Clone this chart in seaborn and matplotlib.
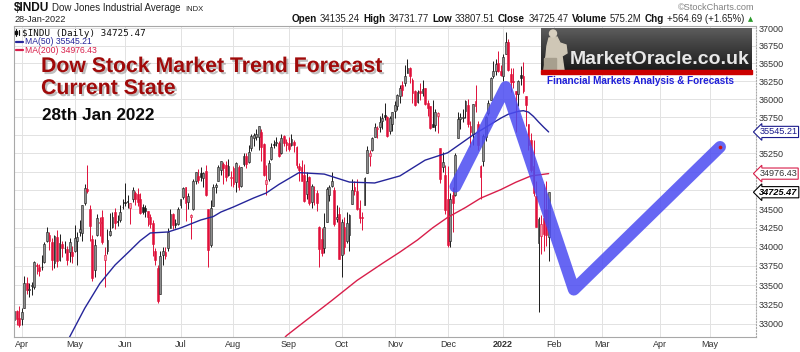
import numpy as np
import pandas as pd
import matplotlib
matplotlib.use("Agg")
import matplotlib.pyplot as plt
import matplotlib.patheffects as pe
from matplotlib.transforms import blended_transform_factory
from matplotlib.patches import Rectangle, Ellipse, Polygon
from matplotlib.lines import Line2D
from matplotlib.ticker import FixedLocator, NullLocator, NullFormatter
import seaborn as sns

# ---------------- data (Dow Jones Industrial Average, daily) ----------------
FIRST_DAY = "2021-03-29"
PREV_CLOSE = 33072.88
OPEN = [
    33050, 33170, 33080,
    33060, 33210, 33520, 33440, 33490, 33480, 33760, 33740, 33730, 33800, 34080, 34150, 34060, 33790, 34130, 33830, 34040, 33990, 33970, 33930, 33930,
    33940, 34080, 34190, 34180, 34580, 34770, 34500, 34100, 33700, 34150, 34320, 34390, 33820, 33940, 34160, 34260, 34460, 34340, 34350, 34530,
    34600, 34610, 34510, 34630, 34720, 34700, 34630, 34530, 34510, 34480, 34400, 34320, 33950, 33720, 33380, 33890, 33930, 33980, 34250, 34430, 34310, 34300,
    34550, 34660, 34790, 34590, 34400, 34500, 34880, 34950, 34980, 34920, 35010, 34500, 34020, 34540, 34800, 34880, 35020, 35110, 35090, 34960, 34920,
    35050, 34860, 35070, 34810, 35110, 35220, 35140, 35320, 35460, 35480, 35480, 35550, 35380, 34840, 34900, 35170, 35380, 35400, 35390, 35250, 35490, 35410,
    35400, 35370, 35410, 35340, 35080, 35060, 34960, 34700, 34930, 34590, 34760, 34720, 34260, 34100, 33990, 34330, 34690, 34810, 34760, 34370, 34430,
    33890, 34260, 34080, 34150, 34570, 34800, 34740, 34510, 34390, 34550, 34990, 35210, 35300, 35470, 35590, 35610, 35700, 35780, 35750, 35560, 35660,
    35830, 35900, 36050, 36200, 36220, 36370, 36440, 36260, 36110, 35960, 36110, 36090, 36150, 35940, 35900, 35650, 35640, 35760, 35320, 35070, 34960,
    34640, 34070, 34690, 34690, 35460, 35720, 35740, 35830, 35920, 35630, 35520, 35970, 35660, 35080, 35150, 35470, 35800, 35990, 36330, 36400, 36500, 36400,
    36320, 36640, 36800, 36350, 36250, 36110, 36070, 36340, 36330, 36040, 35650, 35440, 35080, 34680, 34050, 34140, 34380, 34500, 34135.24,
]
HIGH = [
    33260, 33180, 33230,
    33200, 33620, 33610, 33520, 33540, 33810, 33790, 33770, 33890, 34060, 34260, 34190, 34110, 34160, 34220, 34170, 34070, 34070, 34010, 34120, 34010,
    34290, 34200, 34350, 34560, 34840, 35090, 34560, 34160, 34100, 34430, 34390, 34490, 34000, 34230, 34450, 34460, 34510, 34420, 34550, 34630,
    34850, 34690, 34580, 34790, 34740, 34780, 34710, 34570, 34550, 34480, 34430, 34360, 33990, 33760, 33950, 34000, 34000, 34250, 34500, 34450, 34370, 34530,
    34640, 34800, 34800, 34720, 34430, 34900, 35000, 35040, 35060, 35000, 35090, 34500, 34620, 34830, 34850, 35090, 35150, 35130, 35150, 35170, 35010,
    35080, 35130, 35100, 35070, 35250, 35260, 35360, 35520, 35530, 35590, 35630, 35580, 35400, 35090, 35160, 35400, 35430, 35470, 35420, 35510, 35500, 35450,
    35470, 35510, 35440, 35350, 35120, 35160, 35110, 35000, 34950, 34830, 34810, 34760, 34270, 34250, 34450, 34800, 34820, 35000, 34790, 34550, 34530,
    34370, 34400, 34460, 34430, 34900, 34870, 34900, 34620, 34460, 34930, 35350, 35300, 35480, 35670, 35630, 35770, 35800, 35950, 35770, 35760, 35820,
    35980, 36070, 36190, 36250, 36480, 36570, 36450, 36290, 36130, 36130, 36230, 36260, 36160, 35990, 35900, 35990, 35860, 35820, 35320, 35270, 35100,
    35080, 34710, 34790, 35250, 35820, 35810, 35860, 35990, 36000, 35690, 35930, 36190, 35690, 35090, 35510, 35770, 35990, 36310, 36530, 36570, 36680, 36480,
    36640, 36950, 36850, 36440, 36440, 36110, 36270, 36470, 36520, 36040, 35650, 35530, 35440, 34880, 34390, 34420, 34840, 34880, 34731.77,
]
LOW = [
    32910, 32990, 32960,
    32990, 33200, 33380, 33340, 33370, 33450, 33640, 33620, 33700, 33790, 34060, 33960, 33700, 33720, 33740, 33810, 33870, 33920, 33760, 33800, 33790,
    33930, 33760, 34140, 34080, 34560, 34720, 34070, 33550, 33610, 34140, 34140, 34030, 33470, 33900, 34140, 34250, 34230, 34270, 34330, 34500,
    34540, 34510, 34300, 34600, 34550, 34540, 34440, 34440, 34400, 34270, 34250, 33880, 33760, 33270, 33380, 33760, 33840, 33950, 34250, 34240, 34250, 34290,
    34510, 34630, 34340, 34500, 34100, 34490, 34830, 34850, 34880, 34800, 34670, 33740, 34000, 34540, 34710, 34870, 34960, 34830, 34880, 34940, 34810,
    34790, 34730, 34750, 34800, 35080, 35050, 35120, 35290, 35350, 35440, 35300, 35150, 34940, 34690, 34880, 35160, 35320, 35350, 35200, 35240, 35350, 35290,
    35290, 35350, 35270, 35050, 34870, 34870, 34590, 34640, 34550, 34510, 34550, 34480, 33740, 33880, 33920, 34330, 34610, 34800, 34270, 34330, 33840,
    33610, 33910, 34050, 33940, 34570, 34690, 34490, 34320, 34220, 34550, 34990, 35080, 35290, 35470, 35460, 35550, 35590, 35710, 35480, 35510, 35560,
    35740, 35850, 35940, 36050, 36180, 36370, 36230, 35950, 35910, 35950, 35990, 36050, 35920, 35760, 35580, 35610, 35560, 35530, 34850, 35000, 34440,
    34000, 34000, 34190, 34680, 35460, 35580, 35680, 35740, 35620, 35340, 35370, 35820, 35300, 34640, 35080, 35420, 35780, 35990, 36290, 36340, 36380, 36320,
    36250, 36640, 36400, 36100, 36150, 35540, 35900, 36190, 36090, 35630, 35300, 35000, 34680, 34260, 33150, 33910, 33950, 34010, 33807.51,
]
CLOSE = [
    33171, 33066, 32982,
    33153, 33527, 33430, 33446, 33504, 33801, 33746, 33677, 33730, 34036, 34200, 34078, 33821, 34137, 33815, 34043, 33981, 33984, 33820, 34060, 33875,
    34113, 34133, 34230, 34548, 34778, 34743, 34270, 33587, 34021, 34382, 34328, 34061, 33896, 34085, 34208, 34394, 34313, 34323, 34465, 34529,
    34575, 34600, 34577, 34756, 34630, 34600, 34447, 34466, 34480, 34394, 34299, 34033, 33823, 33290, 33877, 33945, 33874, 34196, 34433, 34283, 34292, 34502,
    34633, 34786, 34577, 34681, 34421, 34870, 34996, 34889, 34933, 34987, 34687, 33962, 34512, 34798, 34823, 35061, 35144, 35059, 34931, 35085, 34935,
    34838, 35117, 34793, 35064, 35209, 35102, 35265, 35485, 35500, 35515, 35626, 35343, 34961, 34894, 35120, 35336, 35367, 35406, 35214, 35456, 35400, 35361,
    35313, 35444, 35369, 35100, 35031, 34879, 34608, 34870, 34578, 34814, 34751, 34584, 33970, 33919, 34258, 34765, 34798, 34870, 34300, 34390, 33844,
    34326, 34003, 34315, 34417, 34755, 34746, 34496, 34378, 34377, 34912, 35295, 35259, 35458, 35609, 35603, 35677, 35741, 35757, 35491, 35731, 35820,
    35913, 36053, 36158, 36124, 36328, 36432, 36320, 36080, 35921, 36100, 36087, 36143, 35931, 35871, 35602, 35619, 35814, 35804, 34899, 35136, 34484,
    34022, 34640, 34580, 35227, 35719, 35754, 35754, 35971, 35650, 35545, 35927, 35898, 35365, 34932, 35493, 35754, 35951, 36302, 36398, 36488, 36398, 36338,
    36585, 36800, 36408, 36236, 36232, 36068, 36252, 36290, 36114, 35912, 35369, 35029, 34715, 34265, 34365, 34298, 34168, 34160, 34725.47,
]

MA50_DATES = ["2021-04-26", "2021-04-29", "2021-05-07", "2021-05-17", "2021-05-25", "2021-06-02",
              "2021-06-09", "2021-06-15", "2021-06-24", "2021-07-01", "2021-07-14", "2021-07-21",
              "2021-07-26", "2021-08-02", "2021-08-12", "2021-08-19", "2021-08-26", "2021-09-08",
              "2021-09-22", "2021-10-06", "2021-10-20", "2021-11-03", "2021-11-17", "2021-12-01",
              "2021-12-15", "2021-12-31", "2022-01-05", "2022-01-11", "2022-01-13", "2022-01-18",
              "2022-01-20", "2022-01-24", "2022-01-26", "2022-01-28"]
MA50_VALUES = [32650, 32833, 33200, 33520, 33760, 33918,
               34080, 34182, 34195, 34248, 34354, 34400,
               34460, 34528, 34648, 34715, 34830, 34990,
               34970, 34862, 34850, 34945, 35159, 35260,
               35503, 35735, 35790, 35830, 35839, 35819,
               35759, 35683, 35612, 35545.21]

MA200_DATES = ["2021-08-25", "2021-08-31", "2021-09-13", "2021-09-27", "2021-10-11", "2021-10-25",
               "2021-11-03", "2021-11-12", "2021-11-22", "2021-12-01", "2021-12-10", "2021-12-20",
               "2021-12-31", "2022-01-10", "2022-01-19", "2022-01-28"]
MA200_VALUES = [32700, 32850, 33050, 33300, 33560, 33780,
                33930, 34090, 34250, 34390, 34520, 34645,
                34760, 34860, 34945, 34976.43]

FORECAST_DATES = ["2021-12-06", "2022-01-04", "2022-02-11", "2022-05-06"]
FORECAST_VALUES = [34800, 36170, 33440, 35340]

MONTH_LABELS = ["Apr", "May", "Jun", "Jul", "Aug", "Sep", "Oct", "Nov", "Dec", "2022", "Feb", "Mar", "Apr", "May"]
PRICE_TICKS = [33000, 33250, 33500, 33750, 34000, 34250, 34500, 34750, 35000, 35250, 35500, 35750,
               36000, 36250, 36500, 36750, 37000]
HIDDEN_TICKS = [34750, 35000, 35500]

HOLIDAYS = ["2021-04-02", "2021-05-31", "2021-07-05", "2021-09-06", "2021-11-25", "2021-12-24",
            "2022-01-17", "2022-02-21", "2022-04-15", "2022-05-30"]

# ---------------- style ----------------
sns.set_theme(style="white")
plt.rcParams["font.family"] = ["Liberation Sans", "DejaVu Sans"]

W, H = 800, 352
def fx(px):
    return px / W
def fy(py):
    return 1 - py / H

fig = plt.figure(figsize=(8, 3.52), dpi=100)
fig.patch.set_facecolor("white")
ax = fig.add_axes([fx(14), 15 / H, 742 / W, 311 / H])

cal = pd.bdate_range(FIRST_DAY, "2022-06-30", freq="C", holidays=HOLIDAYS)
pos = {d: i for i, d in enumerate(cal)}
def xi(dates):
    return np.array([pos[pd.Timestamp(d)] for d in dates], dtype=float)

o = np.array(OPEN, float); h = np.array(HIGH, float)
l = np.array(LOW, float); c = np.array(CLOSE, float)
n = len(c)
x = np.arange(n)
prev = np.r_[PREV_CLOSE, c[:-1]]
up = c >= prev
filled = c < o

RED = "#e0103a"
face, edge, wick = [], [], []
for u, f in zip(up, filled):
    if u:
        face.append("#1a1a1a" if f else "#8e8e8e"); edge.append("#1a1a1a"); wick.append("#1a1a1a")
    else:
        face.append(RED if f else "#f29aaa"); edge.append(RED); wick.append(RED)

ax.vlines(x, l, h, colors=wick, lw=0.7, zorder=2)
ax.bar(x, np.maximum(np.abs(c - o), 4), bottom=np.minimum(o, c), width=0.72,
       color=face, edgecolor=edge, linewidth=0.4, zorder=2.1)

sns.lineplot(x=xi(MA50_DATES), y=MA50_VALUES, ax=ax, color="#25259a", lw=1.0, zorder=3)
sns.lineplot(x=xi(MA200_DATES), y=MA200_VALUES, ax=ax, color="#d81e4a", lw=1.0, zorder=3)
sns.lineplot(x=xi(FORECAST_DATES), y=FORECAST_VALUES, ax=ax, color="#4b4bf2", lw=8.5, alpha=0.85,
             solid_capstyle="round", solid_joinstyle="round", zorder=4)
ax.scatter(xi(FORECAST_DATES)[-1:], FORECAST_VALUES[-1:], s=7, color="#cc1111", zorder=5, linewidths=0)

# axes
ax.set_yscale("log")
ax.yaxis.set_major_locator(FixedLocator(PRICE_TICKS))
ax.yaxis.set_minor_locator(NullLocator())
ax.yaxis.set_minor_formatter(NullFormatter())
ax.set_yticklabels(["" if t in HIDDEN_TICKS else str(t) for t in PRICE_TICKS])
ax.yaxis.tick_right()
ax.set_ylim(32833, 37033)

s = pd.Series(np.arange(len(cal)), index=cal)
firsts = s.groupby(cal.to_period("M")).first()
month_pos = [firsts[pd.Period(p, "M")] for p in pd.period_range("2021-04", "2022-05", freq="M")]
ax.set_xticks(month_pos)
ax.set_xticklabels(MONTH_LABELS)
for t in ax.get_xticklabels():
    if t.get_text() == "2022":
        t.set_fontweight("bold")
ax.set_xlim(-0.054, 294.25)
ax.tick_params(axis="x", length=0, pad=2.0, labelsize=6.5, colors="#333333")
ax.tick_params(axis="y", length=0, pad=2.2, labelsize=6.5, colors="#333333", right=True, left=False,
               labelright=True, labelleft=False)
ax.grid(True, color="#e2e2e2", lw=0.7)
ax.set_axisbelow(True)
ax.set_xlabel(""); ax.set_ylabel("")
for sp in ax.spines.values():
    sp.set_color("#a8a8a8"); sp.set_linewidth(0.8)
ax.spines["right"].set_linestyle(":")

# value boxes on right axis
blend = blended_transform_factory(ax.transAxes, ax.transData)
for val, col, tcol, bold in [(MA50_VALUES[-1], "#1c1c8c", "#1c1c8c", False),
                             (MA200_VALUES[-1], "#d81e4a", "#333333", False),
                             (CLOSE[-1], "#000000", "#000000", True)]:
    ax.text(1.0045, val, f"{val:.2f}", transform=blend, ha="left", va="center", fontsize=6.6,
            fontweight="bold" if bold else "normal", style="italic" if bold else "normal",
            color=tcol, clip_on=False, zorder=6,
            bbox=dict(boxstyle="larrow,pad=0.12", fc="white", ec=col, lw=0.8))

# ---------------- header texts ----------------
fig.text(fx(14), fy(11), "$INDU", fontsize=8.6, fontweight="bold", va="baseline", color="#111")
fig.text(fx(52), fy(11), "Dow Jones Industrial Average", fontsize=7, va="baseline", color="#222")
fig.text(fx(185), fy(11), "INDX", fontsize=5.5, va="baseline", color="#222")
fig.text(fx(14), fy(22.3), "28-Jan-2022", fontsize=6.6, va="baseline", color="#222")
fig.text(fx(755), fy(10), "\u00a9StockCharts.com", fontsize=6.6, va="baseline", ha="right", color="#808080")

renderer = fig.canvas.get_renderer()
pieces = [("Open", True), ("34135.24", False), ("High", True), ("34731.77", False),
          ("Low", True), ("33807.51", False), ("Close", True), ("34725.47", False),
          ("Volume", True), ("575.2M", False), ("Chg", True), ("+564.69 (+1.65%)", False)]
arts = []
for txt, b in pieces:
    t = fig.text(0, fy(21.5), txt, fontsize=7.1 if b else 6.9, fontweight="bold" if b else "normal",
                 va="baseline", color="#111" if b else "#222")
    arts.append(t)
tri = fig.text(0, fy(21.5), "\u25b2", fontsize=4.8, va="baseline", color="#2a9a2a",
               family=["DejaVu Sans"])
arts.append(tri)
widths = [a.get_window_extent(renderer=renderer).width for a in arts]
gaps = [3.2] * (len(arts) - 1)
total = sum(widths) + sum(gaps)
xcur = 753 - total
for a, w_, g in zip(arts, widths, gaps + [0]):
    a.set_x(fx(xcur))
    xcur += w_ + g

# legend inside chart
fig.add_artist(Line2D([fx(16), fx(16)], [fy(29), fy(36)], color="#111", lw=0.8))
fig.add_artist(Line2D([fx(19), fx(19)], [fy(30), fy(35)], color="#111", lw=0.8))
fig.add_artist(Rectangle((fx(15.2), fy(34)), 1.6 / W, 3 / H, color="#111"))
fig.text(fx(22), fy(35.5), "$INDU (Daily) 34725.47", fontsize=6.7, va="baseline", color="#111",
         family=["DejaVu Sans Mono"])
fig.add_artist(Line2D([fx(15.5), fx(22.5)], [fy(41.5), fy(41.5)], color="#25259a", lw=1.6))
fig.text(fx(25), fy(44.5), "MA(50) 35545.21", fontsize=6.2, va="baseline", color="#25259a")
fig.add_artist(Line2D([fx(15.5), fx(22.5)], [fy(50), fy(50)], color="#d81e4a", lw=1.6))
fig.text(fx(25), fy(53), "MA(200) 34976.43", fontsize=6.2, va="baseline", color="#d81e4a")

# titles
shadow = [pe.SimplePatchShadow(offset=(1.5, -1.5), shadow_rgbFace="#8a8a8a", alpha=0.55), pe.Normal()]
fig.text(fx(41), fy(72), "Dow Stock Market Trend Forecast", fontsize=15.3, fontweight="bold",
         color="#a00a0a", va="baseline", path_effects=shadow)
fig.text(fx(41), fy(94), "Current State", fontsize=15.3, fontweight="bold",
         color="#a00a0a", va="baseline", path_effects=shadow)
fig.text(fx(42), fy(120), "28th Jan 2022", fontsize=12.3, fontweight="bold", color="#0a0a0a", va="baseline")

# logo
lax = fig.add_axes([fx(541), fy(70), 211 / W, 42 / H])
grad = np.linspace(0.36, 0.11, 64)[:, None] * np.ones((1, 8))
lax.imshow(grad, cmap="gray", vmin=0, vmax=1, aspect="auto", extent=(0, 1, 0, 1), interpolation="bilinear")
lax.set_xlim(0, 1); lax.set_ylim(0, 1)
lax.axis("off")
def lp(px, py):
    return ((px - 541) / 211, 1 - (py - 28) / 42)
body = [lp(549, 38), lp(557, 37), lp(560, 43), lp(566, 45), lp(567, 53), lp(562, 56), lp(564, 70),
        lp(544, 70), lp(546, 56), lp(547, 46)]
lax.add_patch(Polygon(body, closed=True, color="#cfc7b6"))
lax.add_patch(Polygon([lp(544, 58), lp(556, 58), lp(556, 70), lp(544, 70)], closed=True, color="#a79f8e"))
hx, hy = lp(553, 33.5)
lax.add_patch(Ellipse((hx, hy), 7 / 211, 7 / 42, color="#d8d0c0"))
fig.add_artist(Rectangle((fx(541), fy(73.5)), 211 / W, 3.5 / H, color="#cc0000"))
fig.text(fx(570), fy(64.5), "MarketOracle.co.uk", fontsize=14, fontweight="bold", color="#e8e8e8",
         va="baseline")
fig.text(fx(547), fy(83.5), "Financial Markets Analysis & Forecasts", fontsize=7.2, fontweight="bold",
         color="#1f1fd8", va="baseline")

fig.savefig("out.png", dpi=100)
